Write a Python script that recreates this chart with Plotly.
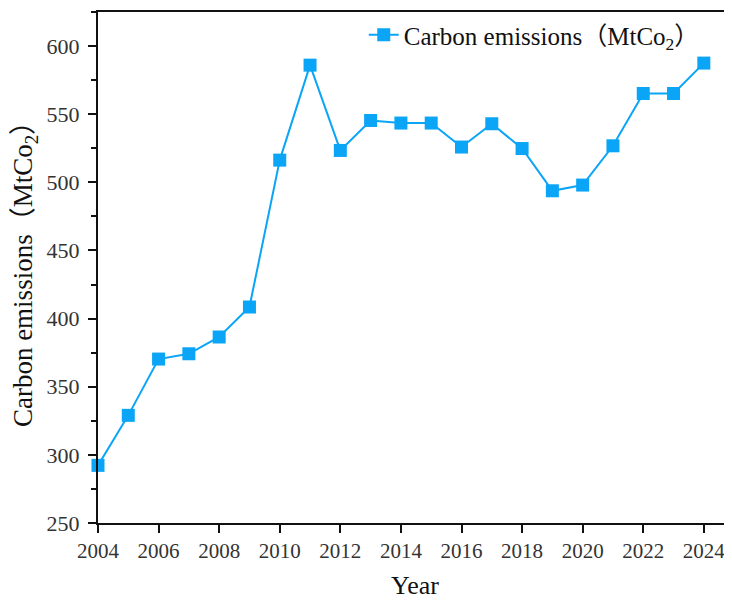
import plotly.graph_objects as go

years = list(range(2004, 2025))
emissions = [292.3, 329.0, 370.3, 374.2, 386.5, 408.5, 516.3, 586.0, 523.4, 545.4,
             543.5, 543.5, 525.9, 543.0, 524.8, 493.8, 498.0, 526.8, 565.2, 565.2, 587.5]
x_ticks = list(range(2004, 2025, 2))
y_ticks = [250, 300, 350, 400, 450, 500, 550, 600]

series_name = "Carbon emissions（MtCo<sub>2</sub>）"
color = "#0AA5F7"
font_family = "Liberation Serif, Times New Roman, Noto Sans CJK SC, serif"

fig = go.Figure()
fig.add_trace(go.Scatter(
    x=years, y=emissions, mode="lines+markers", name=series_name,
    line=dict(color=color, width=2),
    marker=dict(symbol="square", size=13, color=color),
    cliponaxis=False,
))

fig.update_layout(
    width=724, height=592,
    margin=dict(l=90, r=0, t=4, b=77),
    plot_bgcolor="white", paper_bgcolor="white",
    font=dict(family=font_family, color="#333333"),
    showlegend=True,
    legend=dict(
        x=0.957, xanchor="right", xref="paper",
        y=1.0, yanchor="top",
        bgcolor="rgba(0,0,0,0)",
        font=dict(size=25, color="#111111", family=font_family),
    ),
    xaxis=dict(
        range=[2004, 2024.93], automargin=False,
        tickvals=x_ticks, ticktext=[str(v) for v in x_ticks],
        ticks="outside", ticklen=8, tickwidth=2, tickcolor="#111111",
        showline=True, linecolor="#111111", linewidth=2, mirror=True,
        showgrid=False, zeroline=False,
        tickfont=dict(size=21, color="#333333"),
        title=dict(text="Year", font=dict(size=26, color="#111111"), standoff=16),
    ),
    yaxis=dict(
        range=[250, 625], automargin=False,
        tickvals=y_ticks,
        ticks="outside", ticklen=8, tickwidth=2, tickcolor="#111111",
        minor=dict(ticks="outside", ticklen=5, tickwidth=2, tickcolor="#111111", dtick=25, tick0=250),
        showline=True, linecolor="#111111", linewidth=2, mirror=True,
        showgrid=False, zeroline=False,
        ticklabelstandoff=4,
        tickfont=dict(size=22, color="#333333"),
        title=dict(text="Carbon emissions（MtCo<sub>2</sub>）", font=dict(size=27, color="#111111"), standoff=10),
    ),
)

fig.write_html("out.html")
